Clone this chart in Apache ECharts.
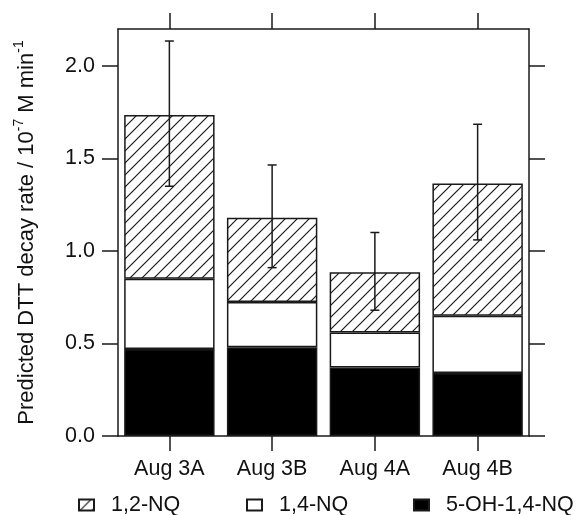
<!DOCTYPE html>
<html>
<head>
<meta charset="utf-8">
<script src="https://cdn.jsdelivr.net/npm/echarts@6/dist/echarts.min.js"></script>
<style>
html,body{margin:0;padding:0;background:#fff;}
#chart{width:577px;height:515px;}
</style>
</head>
<body>
<div id="chart"></div>
<script>
// ---- data ----
const categories = ['Aug 3A', 'Aug 3B', 'Aug 4A', 'Aug 4B'];
const seriesNames = ['1,2-NQ', '1,4-NQ', '5-OH-1,4-NQ'];
const ohnq = [0.47, 0.48, 0.37, 0.34];      // 5-OH-1,4-NQ (bottom, black)
const nq14 = [0.38, 0.245, 0.19, 0.31];     // 1,4-NQ (middle, white)
const nq12 = [0.885, 0.455, 0.325, 0.715];  // 1,2-NQ (top, hatched)
const errLow = [1.35, 0.91, 0.68, 1.06];
const errHigh = [2.135, 1.465, 1.10, 1.685];
const yTicks = [0, 0.5, 1.0, 1.5, 2.0];

// ---- hatch pattern ----
function makeHatch() {
  const s = 12;
  const c = document.createElement('canvas');
  c.width = s; c.height = s;
  const g = c.getContext('2d');
  g.fillStyle = '#fff';
  g.fillRect(0, 0, s, s);
  g.strokeStyle = '#1a1a1a';
  g.lineWidth = 1.2;
  g.beginPath();
  g.moveTo(-1, s + 1); g.lineTo(s + 1, -1);
  g.moveTo(-2, 2); g.lineTo(2, -2);
  g.moveTo(s - 2, s + 2); g.lineTo(s + 2, s - 2);
  g.stroke();
  return c;
}
const hatch = { image: makeHatch(), repeat: 'repeat' };

const FONT = 'Liberation Sans, Arial, Helvetica, sans-serif';
const INK = '#1a1a1a';
const axisLine = { show: true, onZero: false, lineStyle: { color: INK, width: 1.5 } };

const chart = echarts.init(document.getElementById('chart'), null, { renderer: 'canvas' });
const barBorder = { borderColor: INK, borderWidth: 1.5 };

const legendLefts = [78, 246, 413];
const legends = seriesNames.map((n, i) => ({
  data: [n],
  left: legendLefts[i],
  top: 494,
  padding: 0,
  itemWidth: 15,
  itemHeight: 11,
  icon: 'rect',
  selectedMode: false,
  textStyle: { fontFamily: FONT, fontSize: 21.5, color: '#111', padding: [0, 0, 0, 12] }
}));

chart.setOption({
  animation: false,
  backgroundColor: '#fff',
  textStyle: { fontFamily: FONT, color: '#111' },
  grid: { left: 118, right: 48, top: 29, bottom: 79, outerBoundsMode: 'none' },
  legend: legends,
  xAxis: [
    {
      type: 'category', data: categories, position: 'bottom',
      axisLine: axisLine,
      axisTick: { show: true, alignWithLabel: true, length: 15, lineStyle: { color: INK, width: 1.5 } },
      axisLabel: { fontFamily: FONT, fontSize: 21.5, color: '#111', margin: 22 },
      splitLine: { show: false }
    },
    {
      type: 'category', data: categories, position: 'top',
      axisLine: axisLine,
      axisTick: { show: true, alignWithLabel: true, length: 16, lineStyle: { color: INK, width: 1.5 } },
      axisLabel: { show: false },
      splitLine: { show: false }
    }
  ],
  yAxis: [
    {
      type: 'value', position: 'left', min: 0, max: 2.2, interval: 0.5,
      axisLine: axisLine,
      axisTick: { show: true, length: 16, customValues: yTicks, lineStyle: { color: INK, width: 1.5 } },
      axisLabel: { customValues: yTicks, fontFamily: FONT, fontSize: 21.5, color: '#111', margin: 23,
        formatter: v => v.toFixed(1) },
      splitLine: { show: false },
      name: '{a|Predicted DTT decay rate / 10}{s|-7}{a| M min}{s|-1}',
      nameLocation: 'middle',
      nameRotate: 90,
      nameGap: 80,
      nameTextStyle: {
        rich: {
          a: { fontFamily: FONT, fontSize: 22, color: '#111', lineHeight: 26, verticalAlign: 'bottom' },
          s: { fontFamily: FONT, fontSize: 14, color: '#111', lineHeight: 26, verticalAlign: 'top', padding: [0, 0, 6, 0] }
        }
      }
    },
    {
      type: 'value', position: 'right', min: 0, max: 2.2, interval: 0.5,
      axisLine: axisLine,
      axisTick: { show: true, length: 16, customValues: yTicks, lineStyle: { color: INK, width: 1.5 } },
      axisLabel: { show: false },
      splitLine: { show: false }
    }
  ],
  series: [
    {
      name: seriesNames[2], type: 'bar', stack: 'total', data: ohnq, barWidth: '88%',
      itemStyle: Object.assign({ color: '#000' }, barBorder)
    },
    {
      name: seriesNames[1], type: 'bar', stack: 'total', data: nq14, barWidth: '88%',
      itemStyle: Object.assign({ color: '#fff' }, barBorder)
    },
    {
      name: seriesNames[0], type: 'bar', stack: 'total', data: nq12, barWidth: '88%',
      itemStyle: Object.assign({ color: hatch }, barBorder)
    },
    {
      name: 'err', type: 'custom', z: 10,
      data: errLow.map((l, i) => [i, l, errHigh[i]]),
      encode: { x: 0, y: [1, 2] },
      renderItem: function (params, api) {
        const lo = api.coord([api.value(0), api.value(1)]);
        const hi = api.coord([api.value(0), api.value(2)]);
        const w = 4.5;
        const st = { stroke: INK, lineWidth: 1.5 };
        return {
          type: 'group',
          children: [
            { type: 'line', shape: { x1: lo[0], y1: lo[1], x2: hi[0], y2: hi[1] }, style: st },
            { type: 'line', shape: { x1: lo[0] - w, y1: lo[1], x2: lo[0] + w, y2: lo[1] }, style: st },
            { type: 'line', shape: { x1: hi[0] - w, y1: hi[1], x2: hi[0] + w, y2: hi[1] }, style: st }
          ]
        };
      }
    }
  ]
});
</script>
</body>
</html>
